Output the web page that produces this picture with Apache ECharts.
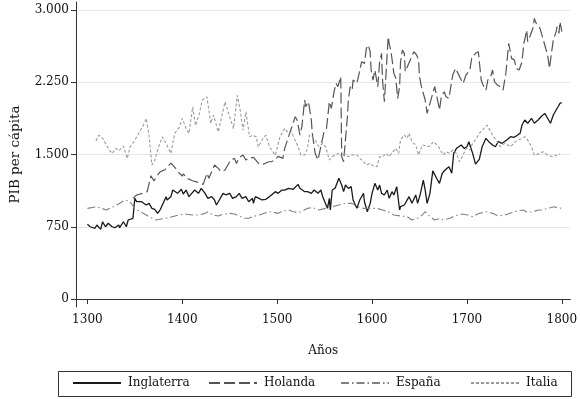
<!DOCTYPE html>
<html>
<head>
<meta charset="utf-8">
<script src="https://cdn.jsdelivr.net/npm/echarts@6/dist/echarts.min.js"></script>
<style>
  html, body { margin: 0; padding: 0; background: #fff; }
  #chart { width: 580px; height: 399px; }
</style>
</head>
<body>
<div id="chart"></div>
<script>
  // [year, PIB per capita]
  const inglaterra = [
    [1300,775],[1303,750],[1305,768],[1308,734],[1310,768],[1314,723],[1316,802],[1319,750],[1322,786],[1326,750],
    [1329,740],[1333,768],[1334,740],[1338,802],[1341,750],[1343,820],[1345,802],[1348,838],[1350,1045],[1352,1010],
    [1353,1028],[1357,1010],[1359,1000],[1362,976],[1365,993],[1368,941],[1371,931],[1374,890],[1377,931],[1379,976],
    [1383,1062],[1384,1028],[1388,1062],[1390,1131],[1392,1124],[1395,1097],[1396,1114],[1399,1139],[1401,1090],[1404,1131],
    [1407,1062],[1410,1097],[1413,1131],[1417,1097],[1420,1149],[1424,1097],[1427,1045],[1431,1062],[1434,1028],[1436,976],
    [1438,1010],[1440,993],[1443,1097],[1446,1080],[1450,1097],[1453,1045],[1457,1062],[1460,1097],[1463,1045],[1467,1062],
    [1470,1010],[1474,1045],[1475,993],[1477,1062],[1481,1045],[1484,1028],[1488,1035],[1491,1055],[1494,1080],[1498,1114],
    [1501,1097],[1505,1131],[1508,1131],[1512,1149],[1517,1139],[1522,1190],[1524,1149],[1529,1114],[1532,1114],[1536,1097],
    [1539,1131],[1543,1097],[1546,1131],[1548,1062],[1550,1080],[1553,941],[1555,1045],[1556,924],[1558,1131],[1561,1149],
    [1565,1253],[1568,1183],[1570,1114],[1572,1183],[1575,1149],[1578,1166],[1580,1028],[1584,941],[1587,1028],[1591,1097],
    [1592,1010],[1595,906],[1598,993],[1600,1097],[1603,1201],[1606,1131],[1608,1183],[1610,1097],[1613,1080],[1616,1131],
    [1618,1045],[1621,1114],[1623,1080],[1626,1166],[1629,924],[1630,958],[1634,976],[1636,993],[1639,1062],[1642,993],
    [1646,1080],[1648,993],[1651,1097],[1654,1235],[1656,1131],[1658,993],[1661,1097],[1664,1330],[1668,1253],[1671,1201],
    [1674,1305],[1677,1339],[1679,1322],[1681,1373],[1684,1305],[1686,1512],[1689,1564],[1691,1547],[1694,1599],[1697,1564],
    [1700,1581],[1702,1633],[1706,1512],[1709,1400],[1713,1450],[1716,1581],[1720,1668],[1723,1633],[1727,1599],[1730,1581],
    [1733,1633],[1737,1616],[1742,1651],[1746,1685],[1749,1678],[1752,1692],[1756,1720],[1758,1806],[1761,1858],[1764,1824],
    [1768,1876],[1771,1824],[1775,1858],[1778,1892],[1782,1927],[1785,1876],[1788,1824],[1791,1910],[1794,1962],[1796,1996],
    [1798,2031],[1800,2040]
  ];

  const holanda = [
    [1348,1045],[1352,1080],[1358,1097],[1363,1114],[1367,1280],[1370,1227],[1372,1253],[1376,1315],[1382,1345],[1388,1410],
    [1390,1415],[1393,1356],[1397,1305],[1400,1275],[1401,1300],[1405,1253],[1410,1230],[1417,1210],[1422,1190],[1426,1305],
    [1428,1253],[1431,1322],[1434,1391],[1438,1356],[1441,1322],[1445,1339],[1448,1391],[1451,1443],[1455,1460],[1457,1408],
    [1460,1465],[1464,1495],[1467,1443],[1470,1460],[1475,1470],[1481,1400],[1486,1401],[1491,1425],[1494,1425],[1498,1450],
    [1501,1480],[1503,1494],[1506,1460],[1508,1564],[1512,1685],[1515,1772],[1519,1892],[1521,1858],[1524,1702],[1526,1789],
    [1529,2066],[1530,1996],[1533,2048],[1536,1858],[1537,1720],[1540,1512],[1543,1443],[1546,1581],[1549,1720],[1552,1772],
    [1555,2048],[1557,1979],[1560,2152],[1562,2239],[1564,2204],[1567,2308],[1568,1477],[1570,1425],[1574,1892],[1575,2066],
    [1577,2204],[1579,2169],[1580,2273],[1584,2239],[1586,2325],[1589,2463],[1592,2446],[1594,2602],[1596,2637],[1598,2567],
    [1599,2377],[1601,2273],[1603,2377],[1606,2204],[1608,2463],[1610,2550],[1611,2273],[1613,2048],[1615,2031],[1617,2723],
    [1618,2654],[1620,2567],[1622,2550],[1623,2342],[1625,2291],[1627,2083],[1629,2204],[1630,2463],[1632,2584],[1634,2550],
    [1635,2360],[1637,2377],[1641,2498],[1644,2567],[1647,2533],[1649,2481],[1650,2308],[1652,2204],[1654,2187],[1656,2066],
    [1658,1927],[1661,2031],[1663,2100],[1666,2204],[1669,2066],[1671,1962],[1673,2100],[1676,2152],[1678,2100],[1681,2083],
    [1685,2325],[1688,2394],[1690,2377],[1694,2273],[1696,2239],[1699,2325],[1703,2377],[1705,2498],[1709,2550],[1712,2567],
    [1715,2273],[1717,2221],[1720,2169],[1722,2273],[1725,2308],[1727,2377],[1729,2256],[1732,2221],[1735,2204],[1738,2169],
    [1741,2342],[1744,2654],[1746,2671],[1747,2498],[1750,2481],[1752,2394],[1755,2377],[1758,2463],[1760,2654],[1763,2792],
    [1764,2671],[1767,2740],[1770,2827],[1771,2913],[1773,2861],[1777,2810],[1780,2706],[1782,2637],[1785,2533],[1787,2394],
    [1789,2550],[1791,2688],[1794,2775],[1795,2827],[1797,2758],[1798,2878],[1800,2775]
  ];

  const espana = [
    [1300,941],[1310,958],[1320,924],[1331,976],[1340,1028],[1345,1010],[1350,941],[1362,872],[1372,820],[1383,838],
    [1396,872],[1403,882],[1410,872],[1417,872],[1424,889],[1427,906],[1432,872],[1438,862],[1443,882],[1450,889],
    [1455,882],[1460,862],[1465,838],[1470,838],[1474,855],[1481,872],[1488,896],[1494,906],[1501,889],[1506,913],
    [1512,924],[1517,906],[1522,896],[1527,915],[1532,941],[1537,950],[1544,924],[1551,941],[1558,958],[1565,976],
    [1572,993],[1579,993],[1584,958],[1591,941],[1598,941],[1605,941],[1611,924],[1617,906],[1623,872],[1630,862],
    [1637,855],[1642,820],[1648,838],[1653,872],[1656,906],[1661,855],[1666,820],[1672,838],[1675,820],[1682,838],
    [1687,862],[1694,882],[1701,872],[1706,855],[1713,889],[1720,906],[1727,889],[1733,862],[1740,872],[1747,896],
    [1754,917],[1759,924],[1764,896],[1770,906],[1775,924],[1780,924],[1785,941],[1792,958],[1797,941],[1800,945]
  ];

  const italia = [
    [1309,1640],[1312,1700],[1316,1670],[1321,1580],[1326,1510],[1330,1563],[1333,1538],[1338,1587],[1342,1459],[1345,1579],
    [1349,1631],[1354,1718],[1359,1804],[1362,1874],[1365,1700],[1368,1390],[1371,1441],[1375,1579],[1379,1683],[1383,1614],
    [1388,1511],[1392,1718],[1397,1787],[1400,1874],[1404,1770],[1407,1718],[1411,1994],[1414,1800],[1418,1926],[1421,2064],
    [1426,2098],[1430,1822],[1433,1908],[1438,1735],[1445,2046],[1450,1890],[1454,1770],[1458,2115],[1461,1960],[1464,1752],
    [1467,1942],[1471,1683],[1474,1700],[1478,1683],[1480,1579],[1485,1666],[1488,1700],[1492,1579],[1498,1493],[1503,1685],
    [1508,1772],[1512,1720],[1515,1737],[1518,1668],[1522,1581],[1525,1495],[1529,1495],[1532,1564],[1534,1702],[1537,1685],
    [1541,1633],[1544,1581],[1548,1616],[1551,1581],[1555,1443],[1558,1477],[1561,1495],[1565,1512],[1568,1477],[1571,1512],
    [1575,1477],[1579,1495],[1584,1495],[1587,1460],[1591,1425],[1594,1391],[1598,1408],[1601,1384],[1605,1373],[1608,1477],
    [1611,1477],[1615,1512],[1618,1477],[1622,1529],[1625,1564],[1628,1512],[1630,1650],[1634,1702],[1637,1668],[1639,1720],
    [1642,1633],[1646,1599],[1649,1495],[1653,1599],[1660,1581],[1665,1633],[1670,1581],[1675,1495],[1678,1529],[1682,1512],
    [1685,1547],[1689,1512],[1692,1425],[1696,1495],[1699,1564],[1703,1547],[1706,1616],[1709,1651],[1713,1720],[1718,1772],
    [1721,1806],[1725,1737],[1728,1685],[1732,1633],[1735,1581],[1740,1616],[1746,1581],[1751,1633],[1758,1668],[1761,1685],
    [1764,1651],[1768,1581],[1771,1495],[1777,1512],[1780,1529],[1785,1495],[1790,1477],[1795,1495],[1798,1505]
  ];

  const xTicks = [1300, 1400, 1500, 1600, 1700, 1800];
  const yTicks = [0, 750, 1500, 2250, 3000];
  const yTickLabels = ['0', '750', '1.500', '2.250', '3.000'];

  const font = 'DejaVu Serif';
  const axisColor = '#333';

  const chartObj = echarts.init(document.getElementById('chart'));

  const lineSeries = (name, data, color, width, dash) => ({
    name: name,
    type: 'line',
    data: data,
    symbol: 'none',
    showSymbol: false,
    animation: false,
    lineStyle: { color: color, width: width, type: dash },
    itemStyle: { color: color }
  });

  // one legend per entry so each can sit where Stata put it
  const legendAt = (name, left) => ({
    data: [name],
    left: left,
    top: 377,
    padding: 0,
    itemWidth: 48,
    itemHeight: 14,
    itemGap: 0,
    itemStyle: { opacity: 0 },
    textStyle: { fontFamily: font, fontSize: 12, color: '#111', padding: [0, 0, 0, 2] }
  });

  chartObj.setOption({
    animation: false,
    grid: { left: 69, right: 6, top: 2, bottom: 92, containLabel: false },
    xAxis: {
      type: 'value',
      min: 1288,
      max: 1809,
      name: 'Años',
      nameLocation: 'middle',
      nameGap: 38,
      nameTextStyle: { fontFamily: font, fontSize: 12, color: '#111' },
      axisLine: { show: true, lineStyle: { color: axisColor, width: 1 } },
      axisTick: { show: true, length: 5, lineStyle: { color: axisColor }, customValues: xTicks },
      axisLabel: {
        customValues: xTicks,
        fontFamily: font, fontSize: 12, color: '#111', margin: 7,
        formatter: value => String(value)
      },
      splitLine: { show: false }
    },
    yAxis: {
      type: 'value',
      min: -83,
      max: 3083,
      name: 'PIB per cápita',
      nameLocation: 'middle',
      nameGap: 54,
      nameTextStyle: { fontFamily: font, fontSize: 13.5, color: '#111' },
      axisLine: { show: true, lineStyle: { color: axisColor, width: 1 } },
      axisTick: { show: true, length: 5, lineStyle: { color: axisColor }, customValues: yTicks },
      axisLabel: {
        customValues: yTicks,
        fontFamily: font, fontSize: 12, color: '#111', margin: 7,
        formatter: value => yTickLabels[yTicks.indexOf(value)]
      },
      splitLine: { show: true, lineStyle: { color: '#e6e6e6', width: 1 } }
    },
    legend: [
      legendAt('Inglaterra', 72),
      legendAt('Holanda', 208),
      legendAt('España', 340),
      legendAt('Italia', 470)
    ],
    graphic: [{
      type: 'rect',
      shape: { x: 58.5, y: 371.5, width: 513, height: 25 },
      style: { fill: 'none', stroke: '#333', lineWidth: 1 },
      silent: true
    }],
    series: [
      lineSeries('Inglaterra', inglaterra, '#1a1a1a', 1.3, 'solid'),
      lineSeries('Holanda', holanda, '#555555', 1.2, [11, 4]),
      lineSeries('España', espana, '#808080', 1.1, [8, 3, 1.5, 3]),
      lineSeries('Italia', italia, '#9a9a9a', 1.1, [3, 2])
    ]
  });
</script>
</body>
</html>
